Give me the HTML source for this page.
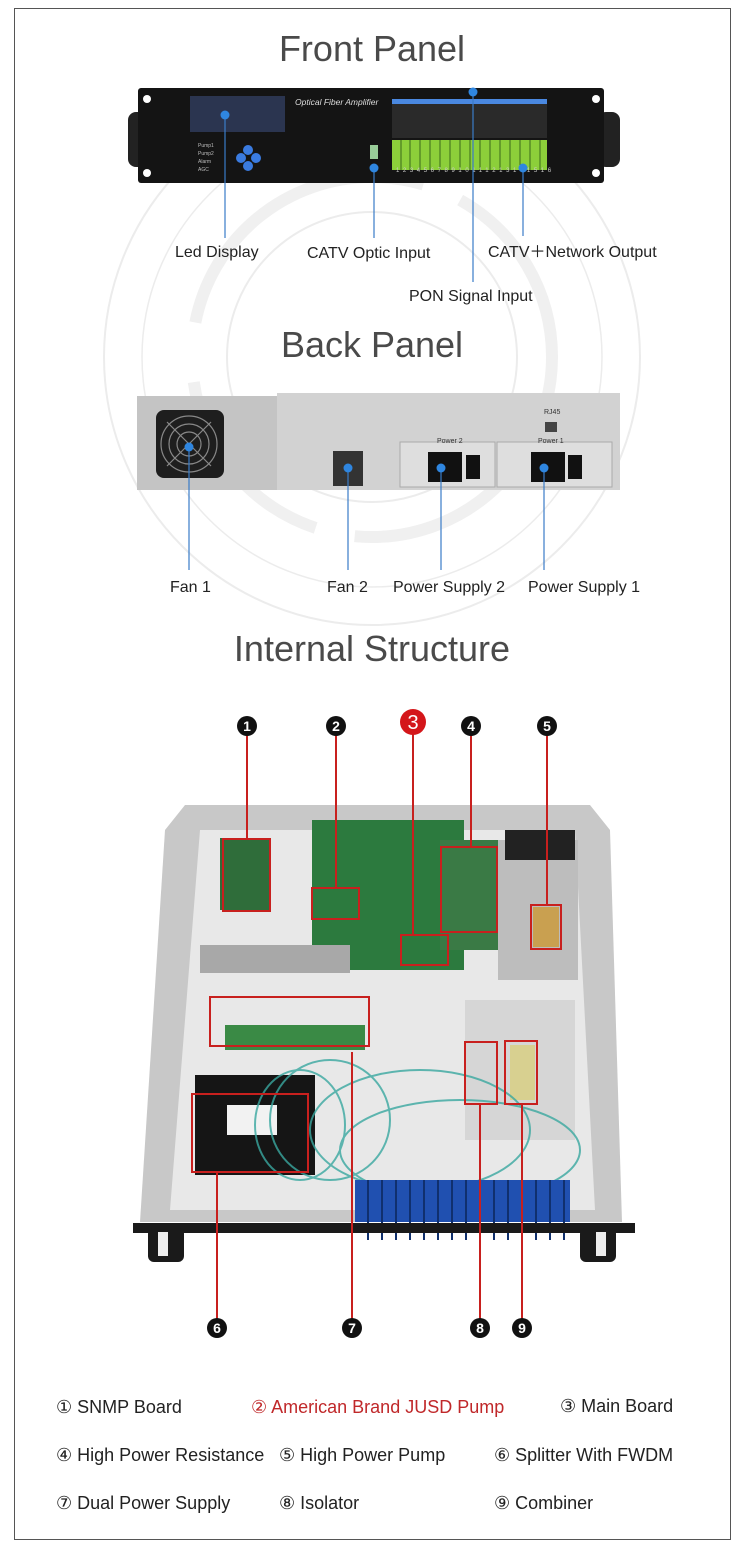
<!DOCTYPE html>
<html><head><meta charset="utf-8"><style>
body{margin:0;background:#fff;}
svg{display:block;font-family:"Liberation Sans",sans-serif;}
</style></head><body>
<svg width="750" height="1553" viewBox="0 0 750 1553" xmlns="http://www.w3.org/2000/svg">
<rect x="0" y="0" width="750" height="1553" fill="#fff"/>
<rect x="14.5" y="8.5" width="716" height="1531" fill="none" stroke="#555" stroke-width="1"/>
<!-- background circles -->
<g fill="none" stroke="#ececec">
<circle cx="372" cy="357" r="268" stroke-width="2"/>
<circle cx="372" cy="357" r="230" stroke-width="1.5"/>
<circle cx="372" cy="357" r="180" stroke-width="12" stroke="#f0f0f0" stroke-dasharray="300 40 200 60"/>
<circle cx="372" cy="357" r="145" stroke-width="2"/>
</g>
<!-- titles -->
<g fill="#4a4a4a" font-size="36" text-anchor="middle">
<text x="372" y="61">Front Panel</text>
<text x="372" y="357">Back Panel</text>
<text x="372" y="661">Internal Structure</text>
</g>
<!-- front panel -->
<rect x="128" y="112" width="22" height="55" rx="8" fill="#222"/>
<rect x="598" y="112" width="22" height="55" rx="8" fill="#222"/>
<rect x="138" y="88" width="466" height="95" rx="3" fill="#141414"/>
<circle cx="147" cy="99" r="4" fill="#fff"/><circle cx="147" cy="173" r="4" fill="#fff"/>
<circle cx="596" cy="99" r="4" fill="#fff"/><circle cx="596" cy="173" r="4" fill="#fff"/>
<rect x="190" y="96" width="95" height="36" fill="#2b3550"/>
<text x="295" y="105" fill="#ddd" font-size="8.5" font-style="italic">Optical Fiber Amplifier</text>
<g fill="#bbb" font-size="5"><text x="198" y="147">Pump1</text><text x="198" y="155">Pump2</text><text x="198" y="163">Alarm</text><text x="198" y="171">AGC</text></g>
<g fill="#3a7be0"><circle cx="248" cy="150" r="5"/><circle cx="241" cy="158" r="5"/><circle cx="256" cy="158" r="5"/><circle cx="248" cy="166" r="5"/></g>
<rect x="370" y="145" width="8" height="14" fill="#9c9"/>
<rect x="392" y="102" width="155" height="36" fill="#2a2a2a"/>
<rect x="392" y="99" width="155" height="5" fill="#4a88e0"/>
<rect x="392" y="140" width="155" height="30" fill="#8ccf3a"/>
<g stroke="#3a6a1a" stroke-width="1">
<line x1="401" y1="140" x2="401" y2="170"/><line x1="410" y1="140" x2="410" y2="170"/><line x1="420" y1="140" x2="420" y2="170"/><line x1="430" y1="140" x2="430" y2="170"/><line x1="440" y1="140" x2="440" y2="170"/><line x1="450" y1="140" x2="450" y2="170"/><line x1="460" y1="140" x2="460" y2="170"/><line x1="470" y1="140" x2="470" y2="170"/><line x1="480" y1="140" x2="480" y2="170"/><line x1="490" y1="140" x2="490" y2="170"/><line x1="500" y1="140" x2="500" y2="170"/><line x1="510" y1="140" x2="510" y2="170"/><line x1="520" y1="140" x2="520" y2="170"/><line x1="530" y1="140" x2="530" y2="170"/><line x1="540" y1="140" x2="540" y2="170"/>
</g>
<text x="396" y="172" fill="#ccc" font-size="6" letter-spacing="3.6">12345678910111213141516</text>
<!-- front connectors -->
<g stroke="#3a7cc8" stroke-width="1.2" fill="none">
<line x1="225" y1="115" x2="225" y2="238"/>
<line x1="374" y1="168" x2="374" y2="238"/>
<line x1="473" y1="92" x2="473" y2="282"/>
<line x1="523" y1="168" x2="523" y2="236"/>
</g>
<g fill="#2f86e0"><circle cx="225" cy="115" r="4.5"/><circle cx="374" cy="168" r="4.5"/><circle cx="473" cy="92" r="4.5"/><circle cx="523" cy="168" r="4.5"/></g>
<g fill="#222" font-size="16">
<text x="175" y="257">Led Display</text>
<text x="307" y="258">CATV Optic Input</text>
<text x="488" y="257">CATV＋Network Output</text>
<text x="409" y="301">PON Signal Input</text>
</g>
<!-- back panel -->
<rect x="137" y="396" width="140" height="94" fill="#c4c4c4"/>
<rect x="277" y="393" width="343" height="97" fill="#d2d2d2"/>
<rect x="497" y="442" width="115" height="45" fill="#dedede" stroke="#aaa"/>
<rect x="400" y="442" width="95" height="45" fill="#dedede" stroke="#aaa"/>
<rect x="156" y="410" width="68" height="68" rx="8" fill="#1e1e1e"/>
<g fill="none" stroke="#888" stroke-width="1.2"><circle cx="189" cy="444" r="28"/><circle cx="189" cy="444" r="20"/><circle cx="189" cy="444" r="12"/><line x1="167" y1="422" x2="211" y2="466"/><line x1="211" y1="422" x2="167" y2="466"/></g>
<rect x="333" y="451" width="30" height="35" fill="#333"/>
<rect x="428" y="452" width="34" height="30" fill="#111"/>
<rect x="531" y="452" width="34" height="30" fill="#111"/>
<rect x="466" y="455" width="14" height="24" fill="#111"/>
<rect x="568" y="455" width="14" height="24" fill="#111"/>
<rect x="545" y="422" width="12" height="10" fill="#444"/>
<g fill="#333" font-size="7"><text x="544" y="414">RJ45</text><text x="437" y="443">Power 2</text><text x="538" y="443">Power 1</text></g>
<g stroke="#3a7cc8" stroke-width="1.2"><line x1="189" y1="447" x2="189" y2="570"/><line x1="348" y1="468" x2="348" y2="570"/><line x1="441" y1="468" x2="441" y2="570"/><line x1="544" y1="468" x2="544" y2="570"/></g>
<g fill="#2f86e0"><circle cx="189" cy="447" r="4.5"/><circle cx="348" cy="468" r="4.5"/><circle cx="441" cy="468" r="4.5"/><circle cx="544" cy="468" r="4.5"/></g>
<g fill="#222" font-size="16">
<text x="170" y="592">Fan 1</text><text x="327" y="592">Fan 2</text><text x="393" y="592">Power Supply 2</text><text x="528" y="592">Power Supply 1</text>
</g>
<!-- internal -->
<polygon points="185,805 590,805 610,830 622,1222 140,1222 165,830" fill="#c8c8c8"/>
<polygon points="200,830 575,830 595,1210 170,1210" fill="#e8e8e8"/>
<rect x="220" y="838" width="50" height="72" fill="#2f6d3a"/>
<rect x="312" y="820" width="152" height="150" fill="#2c7a3e"/>
<rect x="440" y="840" width="60" height="110" fill="#3a7a45"/>
<rect x="498" y="840" width="80" height="140" fill="#bdbdbd"/>
<rect x="505" y="830" width="70" height="30" fill="#222"/>
<rect x="533" y="907" width="26" height="40" fill="#c9a050"/>
<rect x="200" y="945" width="150" height="28" fill="#a8a8a8"/>
<rect x="225" y="1025" width="140" height="25" fill="#3a8a45"/>
<rect x="195" y="1075" width="120" height="100" fill="#151515"/>
<rect x="227" y="1105" width="50" height="30" fill="#f2f2f2"/>
<rect x="465" y="1000" width="110" height="140" fill="#d6d6d6"/>
<rect x="510" y="1045" width="25" height="55" fill="#d8d090"/>
<g fill="none" stroke="#3aa8a0" stroke-width="2" opacity="0.8">
<ellipse cx="300" cy="1125" rx="45" ry="55"/><ellipse cx="330" cy="1120" rx="60" ry="60"/><ellipse cx="420" cy="1130" rx="110" ry="60"/><ellipse cx="460" cy="1150" rx="120" ry="50"/>
</g>
<rect x="355" y="1180" width="215" height="42" fill="#2050b0"/>
<g stroke="#10306e" stroke-width="2"><line x1="368" y1="1180" x2="368" y2="1240"/><line x1="382" y1="1180" x2="382" y2="1240"/><line x1="396" y1="1180" x2="396" y2="1240"/><line x1="410" y1="1180" x2="410" y2="1240"/><line x1="424" y1="1180" x2="424" y2="1240"/><line x1="438" y1="1180" x2="438" y2="1240"/><line x1="452" y1="1180" x2="452" y2="1240"/><line x1="466" y1="1180" x2="466" y2="1240"/><line x1="480" y1="1180" x2="480" y2="1240"/><line x1="494" y1="1180" x2="494" y2="1240"/><line x1="508" y1="1180" x2="508" y2="1240"/><line x1="522" y1="1180" x2="522" y2="1240"/><line x1="536" y1="1180" x2="536" y2="1240"/><line x1="550" y1="1180" x2="550" y2="1240"/><line x1="564" y1="1180" x2="564" y2="1240"/></g>
<rect x="133" y="1223" width="502" height="10" fill="#1a1a1a"/>
<rect x="148" y="1228" width="36" height="34" rx="6" fill="#1a1a1a"/>
<rect x="580" y="1228" width="36" height="34" rx="6" fill="#1a1a1a"/>
<rect x="158" y="1232" width="10" height="24" fill="#eee"/><rect x="596" y="1232" width="10" height="24" fill="#eee"/>
<!-- red boxes -->
<g fill="none" stroke="#c8201e" stroke-width="2">
<rect x="223" y="839" width="47" height="72"/>
<rect x="312" y="888" width="47" height="31"/>
<rect x="401" y="935" width="47" height="30"/>
<rect x="441" y="847" width="56" height="85"/>
<rect x="531" y="905" width="30" height="44"/>
<rect x="210" y="997" width="159" height="49"/>
<rect x="192" y="1094" width="116" height="78"/>
<rect x="465" y="1042" width="32" height="62"/>
<rect x="505" y="1041" width="32" height="63"/>
<line x1="247" y1="726" x2="247" y2="839"/>
<line x1="336" y1="726" x2="336" y2="888"/>
<line x1="413" y1="722" x2="413" y2="935"/>
<line x1="471" y1="726" x2="471" y2="847"/>
<line x1="547" y1="726" x2="547" y2="905"/>
<line x1="217" y1="1172" x2="217" y2="1328"/>
<line x1="352" y1="1052" x2="352" y2="1328"/>
<line x1="480" y1="1104" x2="480" y2="1328"/>
<line x1="522" y1="1104" x2="522" y2="1328"/>
</g>
<g fill="#111"><circle cx="247" cy="726" r="10"/><circle cx="336" cy="726" r="10"/><circle cx="471" cy="726" r="10"/><circle cx="547" cy="726" r="10"/>
<circle cx="217" cy="1328" r="10"/><circle cx="352" cy="1328" r="10"/><circle cx="480" cy="1328" r="10"/><circle cx="522" cy="1328" r="10"/></g>
<circle cx="413" cy="722" r="13" fill="#d4161a"/>
<g fill="#fff" font-size="14" font-weight="bold" text-anchor="middle">
<text x="247" y="731">1</text><text x="336" y="731">2</text><text x="471" y="731">4</text><text x="547" y="731">5</text>
<text x="413" y="729" font-size="20" font-weight="normal">3</text>
<text x="217" y="1333">6</text><text x="352" y="1333">7</text><text x="480" y="1333">8</text><text x="522" y="1333">9</text>
</g>
<!-- legend -->
<g fill="#222" font-size="18">
<text x="56" y="1413">① SNMP Board</text>
<text x="251" y="1413" fill="#c0282a">②  American Brand JUSD Pump</text>
<text x="560" y="1412">③ Main Board</text>
<text x="56" y="1461">④ High Power Resistance</text>
<text x="279" y="1461">⑤  High Power Pump</text>
<text x="494" y="1461">⑥ Splitter With FWDM</text>
<text x="56" y="1509">⑦ Dual Power Supply</text>
<text x="279" y="1509">⑧  Isolator</text>
<text x="494" y="1509">⑨ Combiner</text>
</g>
</svg>
</body></html>
